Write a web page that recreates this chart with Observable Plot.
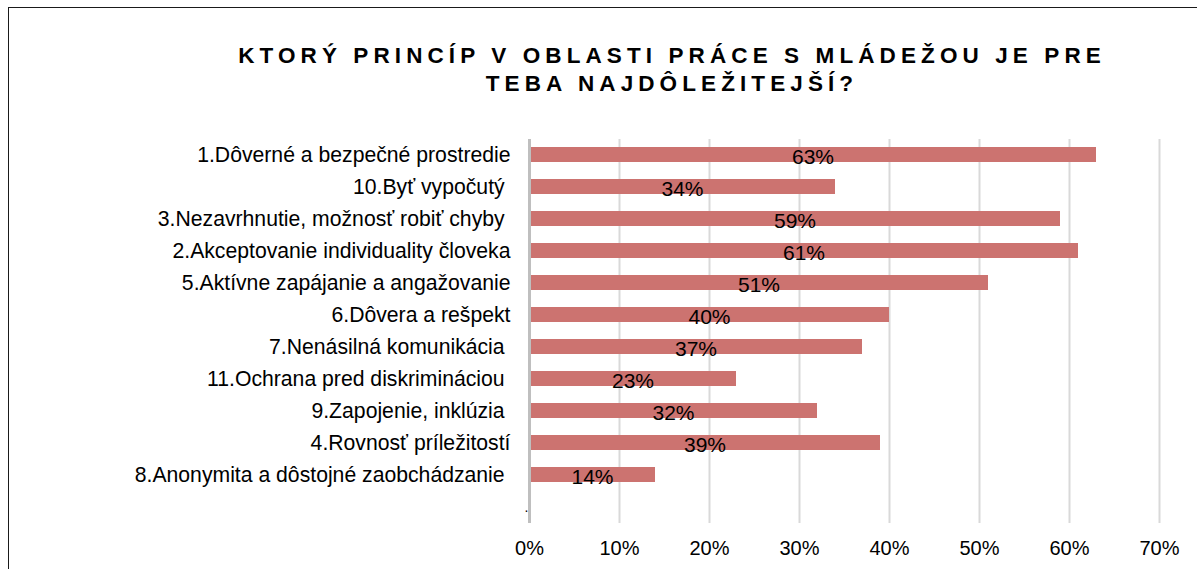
<!DOCTYPE html>
<html>
<head>
<meta charset="utf-8">
<script src="https://cdn.jsdelivr.net/npm/d3@7"></script>
<script src="https://cdn.jsdelivr.net/npm/@observablehq/plot@0.6"></script>
<style>
  html, body { margin: 0; padding: 0; background: #fff; width: 1197px; height: 569px; overflow: hidden; }
  #frame { position: absolute; left: 8px; top: 7px; width: 1300px; height: 700px; border: 1.5px solid #1a1a1a; box-sizing: border-box; }
  #title { position: absolute; left: 172px; top: 42px; width: 1000px; text-align: center;
    font-family: "Liberation Sans", Arial, sans-serif; font-weight: bold; font-size: 22.5px; line-height: 28px;
    letter-spacing: 5.1px; word-spacing: 0px; color: #000; }
  #chart { position: absolute; left: 0; top: 0; }
  #chart svg text { white-space: pre; }
</style>
</head>
<body>
<div id="frame"></div>
<div id="title">KTORÝ PRINCÍP V OBLASTI PRÁCE S MLÁDEŽOU JE PRE<br>TEBA NAJDÔLEŽITEJŠÍ?</div>
<div id="chart"></div>
<script>
const categories = [
  "1.Dôverné a bezpečné prostredie",
  "10.Byť vypočutý ",
  "3.Nezavrhnutie, možnosť robiť chyby ",
  "2.Akceptovanie individuality človeka",
  "5.Aktívne zapájanie a angažovanie",
  "6.Dôvera a rešpekt",
  "7.Nenásilná komunikácia ",
  "11.Ochrana pred diskrimináciou ",
  "9.Zapojenie, inklúzia ",
  "4.Rovnosť príležitostí",
  "8.Anonymita a dôstojné zaobchádzanie ",
  ""
];
const values = [0.63, 0.34, 0.59, 0.61, 0.51, 0.40, 0.37, 0.23, 0.32, 0.39, 0.14, null];
const xTicks = [0, 0.1, 0.2, 0.3, 0.4, 0.5, 0.6, 0.7];
const blankMark = ["."];

const data = categories.map((c, i) => ({cat: c, v: values[i]}));
const bars = data.filter(d => d.v != null);

const chart = Plot.plot({
  width: 1197,
  height: 569,
  marginLeft: 529,
  marginRight: 38,
  marginTop: 139,
  marginBottom: 46,
  style: {fontFamily: "'Liberation Sans', Arial, sans-serif", fontSize: "20px", color: "#000", background: "transparent"},
  x: {domain: [0, 0.7], ticks: xTicks, tickFormat: d => Math.round(d * 100) + "%"},
  y: {domain: categories, paddingInner: 0.52, paddingOuter: 0.26, label: null},
  marks: [
    Plot.gridX(xTicks.slice(1), {stroke: "#d9d9d9", strokeOpacity: 1, strokeWidth: 2}),
    Plot.axisX({ticks: xTicks, tickSize: 0, tickPadding: 17, label: null, fontSize: 20, tickFormat: d => Math.round(d * 100) + "%"}),
    Plot.axisY({tickSize: 0, tickPadding: 19, label: null, fontSize: 21.2}),
    Plot.barX(bars, {x: "v", y: "cat", fill: "#cc7370"}),
    Plot.ruleX([0], {stroke: "#bfbfbf", strokeWidth: 3}),
    Plot.text(bars, {x: d => d.v / 2, y: "cat", text: d => Math.round(d.v * 100) + "%", fontSize: 21, fill: "#000", dy: 2}),
    Plot.text(blankMark, {x: () => 0, y: () => "", text: d => d, fontSize: 14, fill: "#000", dx: -3, dy: 1})
  ]
});
document.getElementById("chart").appendChild(chart);
</script>
</body>
</html>
